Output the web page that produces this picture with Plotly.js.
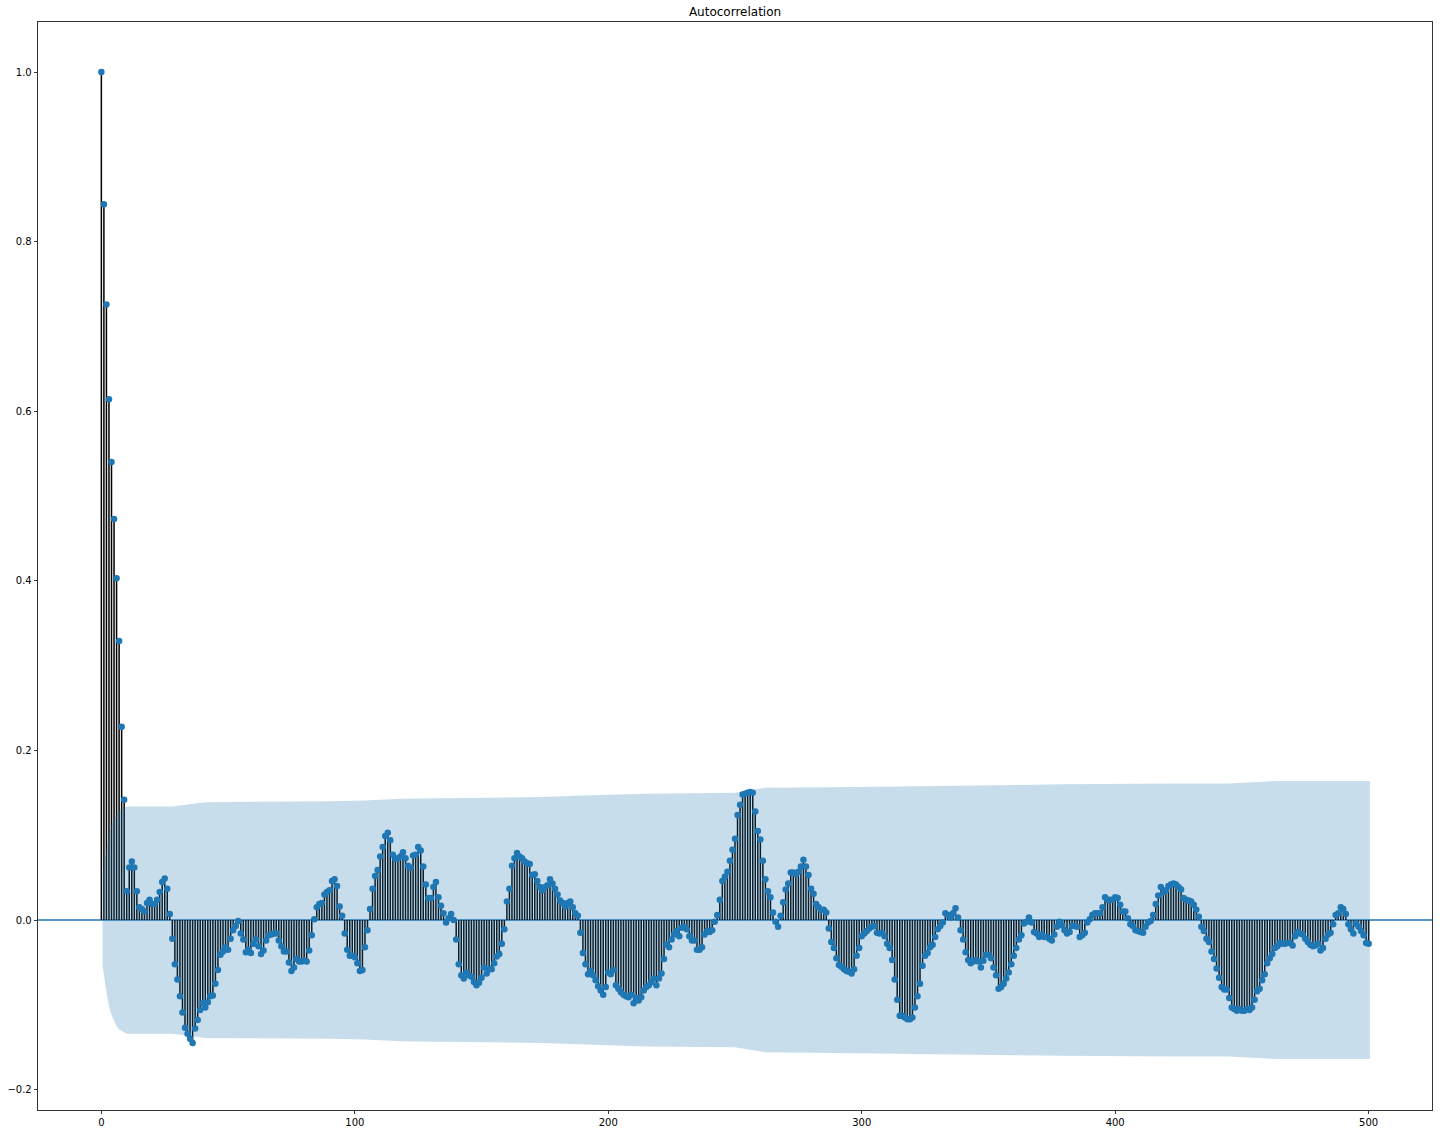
<!DOCTYPE html>
<html>
<head>
<meta charset="utf-8">
<script src="https://cdn.plot.ly/plotly-3.0.1.min.js"></script>
<style>
  html, body { margin: 0; padding: 0; background: #ffffff; }
  #chart { width: 1444px; height: 1134px; }
</style>
</head>
<body>
<div id="chart"></div>
<script>
// Autocorrelation values, lags 0..500
const acfValues = [
  1.0, 0.844, 0.726, 0.614, 0.540, 0.473, 0.403, 0.329, 0.228, 0.142,
  0.034, 0.062, 0.069, 0.062, 0.034, 0.015, 0.013, 0.010, 0.020, 0.024,
  0.019, 0.019, 0.024, 0.033, 0.045, 0.049, 0.037, 0.007, -0.022, -0.052,
  -0.070, -0.090, -0.109, -0.127, -0.134, -0.140, -0.145, -0.128, -0.118, -0.106,
  -0.098, -0.103, -0.097, -0.090, -0.089, -0.075, -0.059, -0.041, -0.037, -0.032,
  -0.035, -0.022, -0.012, -0.007, -0.001, -0.016, -0.023, -0.038, -0.035, -0.039,
  -0.028, -0.023, -0.031, -0.040, -0.036, -0.024, -0.018, -0.017, -0.016, -0.016,
  -0.024, -0.031, -0.037, -0.037, -0.050, -0.060, -0.056, -0.046, -0.049, -0.049,
  -0.048, -0.049, -0.036, -0.018, 0.001, 0.015, 0.019, 0.020, 0.030, 0.033,
  0.035, 0.046, 0.048, 0.040, 0.016, 0.005, -0.016, -0.035, -0.042, -0.042,
  -0.044, -0.051, -0.060, -0.059, -0.032, -0.012, 0.013, 0.037, 0.052, 0.059,
  0.075, 0.086, 0.099, 0.103, 0.094, 0.077, 0.072, 0.073, 0.075, 0.080,
  0.073, 0.064, 0.062, 0.076, 0.077, 0.086, 0.082, 0.063, 0.042, 0.026,
  0.026, 0.039, 0.045, 0.027, 0.017, 0.008, -0.003, 0.002, 0.007, 0.000,
  -0.023, -0.052, -0.065, -0.069, -0.062, -0.065, -0.067, -0.073, -0.077, -0.074,
  -0.068, -0.056, -0.063, -0.058, -0.058, -0.051, -0.043, -0.040, -0.028, -0.011,
  0.022, 0.037, 0.064, 0.073, 0.079, 0.075, 0.073, 0.069, 0.067, 0.066,
  0.053, 0.054, 0.046, 0.039, 0.035, 0.039, 0.041, 0.048, 0.043, 0.037,
  0.030, 0.023, 0.020, 0.016, 0.020, 0.022, 0.015, 0.008, 0.005, -0.015,
  -0.039, -0.052, -0.064, -0.060, -0.065, -0.071, -0.078, -0.083, -0.088, -0.079,
  -0.062, -0.064, -0.059, -0.077, -0.081, -0.085, -0.088, -0.090, -0.091, -0.088,
  -0.098, -0.092, -0.095, -0.091, -0.083, -0.079, -0.077, -0.073, -0.069, -0.077,
  -0.069, -0.063, -0.046, -0.029, -0.032, -0.023, -0.017, -0.013, -0.019, -0.009,
  -0.008, -0.011, -0.019, -0.024, -0.024, -0.035, -0.035, -0.032, -0.017, -0.013,
  -0.014, -0.012, -0.002, 0.006, 0.024, 0.046, 0.051, 0.057, 0.070, 0.083,
  0.096, 0.124, 0.136, 0.148, 0.149, 0.150, 0.151, 0.150, 0.128, 0.105,
  0.095, 0.070, 0.048, 0.034, 0.027, 0.009, -0.002, -0.008, 0.005, 0.021,
  0.036, 0.043, 0.056, 0.056, 0.054, 0.057, 0.063, 0.071, 0.063, 0.053,
  0.037, 0.031, 0.019, 0.015, 0.012, 0.012, 0.009, -0.010, -0.026, -0.033,
  -0.045, -0.053, -0.055, -0.058, -0.060, -0.061, -0.063, -0.058, -0.042, -0.033,
  -0.019, -0.016, -0.013, -0.010, -0.008, -0.007, -0.015, -0.016, -0.015, -0.019,
  -0.028, -0.033, -0.047, -0.070, -0.094, -0.113, -0.113, -0.115, -0.117, -0.117,
  -0.115, -0.103, -0.090, -0.075, -0.054, -0.042, -0.039, -0.032, -0.029, -0.020,
  -0.011, -0.007, -0.003, 0.008, 0.006, 0.003, 0.008, 0.014, 0.003, -0.012,
  -0.023, -0.038, -0.047, -0.051, -0.049, -0.047, -0.049, -0.056, -0.048, -0.041,
  -0.041, -0.045, -0.056, -0.065, -0.081, -0.079, -0.075, -0.069, -0.062, -0.052,
  -0.042, -0.033, -0.023, -0.018, -0.004, -0.002, 0.003, -0.003, -0.014, -0.016,
  -0.020, -0.017, -0.020, -0.020, -0.022, -0.024, -0.017, -0.008, -0.002, -0.006,
  -0.012, -0.016, -0.014, -0.007, -0.007, -0.008, -0.020, -0.018, -0.015, -0.003,
  0.001, 0.006, 0.008, 0.008, 0.008, 0.015, 0.027, 0.024, 0.024, 0.024,
  0.027, 0.026, 0.018, 0.010, 0.010, 0.002, -0.005, -0.007, -0.012, -0.013,
  -0.014, -0.015, -0.008, -0.003, -0.001, 0.006, 0.019, 0.029, 0.039, 0.033,
  0.035, 0.040, 0.042, 0.043, 0.042, 0.039, 0.036, 0.026, 0.024, 0.023,
  0.022, 0.018, 0.012, 0.004, -0.008, -0.013, -0.022, -0.026, -0.037, -0.046,
  -0.057, -0.068, -0.079, -0.082, -0.082, -0.092, -0.103, -0.105, -0.107, -0.105,
  -0.107, -0.107, -0.105, -0.106, -0.103, -0.094, -0.084, -0.081, -0.071, -0.064,
  -0.051, -0.045, -0.040, -0.033, -0.031, -0.027, -0.028, -0.028, -0.027, -0.027,
  -0.030, -0.019, -0.014, -0.016, -0.017, -0.022, -0.026, -0.029, -0.031, -0.030,
  -0.028, -0.036, -0.033, -0.022, -0.017, -0.015, -0.005, 0.006, 0.008, 0.015,
  0.013, 0.007, -0.005, -0.011, -0.016, -0.004, -0.008, -0.013, -0.018, -0.027,
  -0.028
];

// Lag numbers 0..500
const lags = acfValues.map((_, i) => i);

// Confidence band half-width, read at selected lags
const bandLags  = [0.5, 2, 3, 4, 5, 6, 7, 8, 9, 10, 28, 41, 90, 104, 118, 132, 174, 190, 215, 250, 256, 262, 298, 320, 339, 380, 422, 445, 464, 500.5];
const bandUpper = [0.054, 0.085, 0.101, 0.112, 0.119, 0.125, 0.129, 0.131, 0.132, 0.134, 0.134, 0.139, 0.140, 0.141, 0.143, 0.1435, 0.145, 0.147, 0.149, 0.150, 0.153, 0.156, 0.157, 0.158, 0.159, 0.160, 0.161, 0.161, 0.164, 0.164];

const xTicks = [0, 100, 200, 300, 400, 500];
const yTicks = [-0.2, 0.0, 0.2, 0.4, 0.6, 0.8, 1.0];

// Build stem segments from the data
const stemX = [], stemY = [];
lags.forEach((k, i) => {
  stemX.push(k, k, null);
  stemY.push(0, acfValues[i], null);
});

// Closed band polygon
const bandX = bandLags.concat(bandLags.slice().reverse());
const bandY = bandUpper.concat(bandUpper.slice().reverse().map(v => -v));

const C0 = '#1f77b4';

const traces = [
  {
    type: 'scatter', mode: 'lines', x: stemX, y: stemY,
    line: { color: '#000000', width: 1.5 }, connectgaps: false,
    hoverinfo: 'skip', showlegend: false
  },
  {
    type: 'scatter', mode: 'markers', x: lags, y: acfValues,
    marker: { color: C0, size: 6.5, line: { width: 0 } },
    hoverinfo: 'skip', showlegend: false
  },
  {
    type: 'scatter', mode: 'lines', x: bandX, y: bandY,
    fill: 'toself', fillcolor: 'rgba(31,119,180,0.25)',
    line: { width: 0, color: 'rgba(0,0,0,0)' },
    hoverinfo: 'skip', showlegend: false
  }
];

const axisCommon = {
  showgrid: false, zeroline: false,
  showline: true, mirror: true, linecolor: '#000000', linewidth: 0.8,
  ticks: 'outside', ticklen: 3.5, tickwidth: 0.8, tickcolor: '#000000',
  tickfont: { family: 'DejaVu Sans', size: 10, color: '#000000' }
};

const layout = {
  width: 1444, height: 1134,
  margin: { l: 38, r: 12, t: 22, b: 24, pad: 0 },
  paper_bgcolor: '#ffffff', plot_bgcolor: '#ffffff',
  font: { family: 'DejaVu Sans', color: '#000000' },
  title: {
    text: 'Autocorrelation',
    font: { family: 'DejaVu Sans', size: 12, color: '#000000' },
    x: 0.5, xref: 'paper', xanchor: 'center',
    y: 1 - 12 / 1134, yref: 'container', yanchor: 'middle'
  },
  xaxis: Object.assign({}, axisCommon, {
    range: [-25, 525], tickmode: 'array', tickvals: xTicks,
    ticktext: xTicks.map(String)
  }),
  yaxis: Object.assign({}, axisCommon, {
    range: [-0.224, 1.059], tickmode: 'array', tickvals: yTicks,
    tickformat: '.1f'
  }),
  shapes: [
    {
      type: 'line', xref: 'paper', x0: 0, x1: 1, yref: 'y', y0: 0, y1: 0,
      line: { color: C0, width: 1.5 }, layer: 'below'
    }
  ],
  hovermode: false,
  showlegend: false
};

Plotly.newPlot('chart', traces, layout, { displayModeBar: false, staticPlot: true });
</script>
</body>
</html>
